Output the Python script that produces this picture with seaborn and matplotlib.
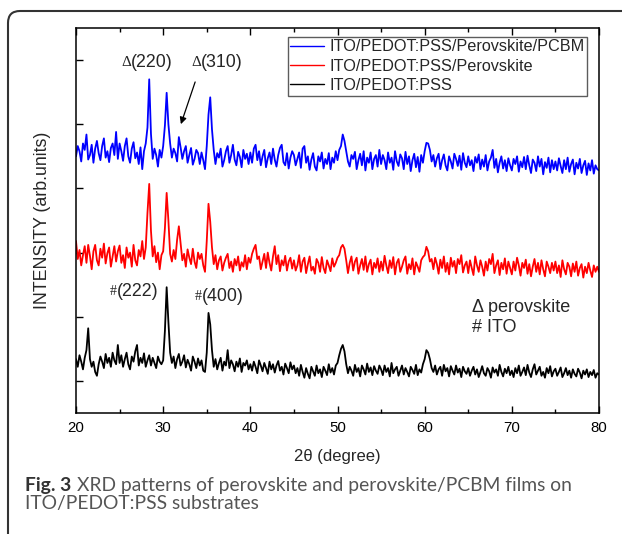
import numpy as np
import pandas as pd
import seaborn as sns
import matplotlib.pyplot as plt
import matplotlib.transforms as mtransforms
from matplotlib.patches import FancyBboxPatch
from matplotlib.ticker import MultipleLocator

# 2theta scan, 0.2 deg step, 20..80
two_theta = np.round(np.arange(20.0, 80.01, 0.2), 1)

# ITO/PEDOT:PSS/Perovskite/PCBM (offset trace, top)
pcbm = [
    3.50, 3.66, 3.58, 3.42, 3.70, 3.60, 3.84, 3.45, 3.52, 3.68, 3.40, 3.62, 3.74, 3.55, 3.44, 3.66, 3.78, 3.48, 3.58, 3.41, 3.63, 3.70, 3.52, 3.88, 3.46,  # 20-25
    3.70, 3.58, 3.43, 3.66, 3.78, 3.50, 3.40, 3.62, 3.72, 3.47, 3.56, 3.38, 3.64, 3.30, 3.58, 3.70, 3.95, 4.70, 3.85, 3.46, 3.62, 3.52, 3.34, 3.60, 3.48,  # 25-30
    3.66, 3.98, 4.49, 4.00, 3.70, 3.48, 3.62, 3.55, 3.42, 3.80, 3.64, 3.46, 3.58, 3.66, 3.40, 3.52, 3.63, 3.37, 3.46, 3.60, 3.55, 3.38, 3.56, 3.44, 3.30,  # 30-35
    3.66, 4.15, 4.42, 3.92, 3.60, 3.38, 3.55, 3.48, 3.62, 3.34, 3.44, 3.58, 3.66, 3.40, 3.52, 3.68, 3.45, 3.36, 3.57, 3.49, 3.33, 3.60, 3.46, 3.54, 3.38,  # 35-40
    3.56, 3.40, 3.62, 3.68, 3.44, 3.58, 3.36, 3.50, 3.60, 3.33, 3.47, 3.56, 3.38, 3.62, 3.45, 3.34, 3.52, 3.63, 3.68, 3.41, 3.36, 3.55, 3.31, 3.48, 3.58,  # 40-45
    3.52, 3.36, 3.46, 3.56, 3.32, 3.62, 3.66, 3.40, 3.50, 3.29, 3.45, 3.55, 3.34, 3.28, 3.50, 3.42, 3.56, 3.31, 3.46, 3.38, 3.55, 3.30, 3.48, 3.40, 3.58,  # 45-50
    3.44, 3.60, 3.66, 3.84, 3.74, 3.58, 3.42, 3.34, 3.52, 3.46, 3.57, 3.30, 3.44, 3.54, 3.36, 3.58, 3.28, 3.48, 3.40, 3.56, 3.30, 3.46, 3.52, 3.34, 3.60,  # 50-55
    3.38, 3.52, 3.44, 3.30, 3.56, 3.40, 3.48, 3.29, 3.58, 3.42, 3.35, 3.53, 3.47, 3.30, 3.57, 3.38, 3.50, 3.27, 3.44, 3.54, 3.33, 3.49, 3.26, 3.52, 3.40,  # 55-60
    3.58, 3.71, 3.70, 3.60, 3.42, 3.52, 3.34, 3.47, 3.54, 3.30, 3.44, 3.53, 3.36, 3.28, 3.50, 3.42, 3.31, 3.54, 3.46, 3.35, 3.51, 3.29, 3.55, 3.40, 3.33,  # 60-65
    3.50, 3.36, 3.44, 3.27, 3.49, 3.40, 3.53, 3.30, 3.45, 3.34, 3.52, 3.28, 3.42, 3.48, 3.60, 3.32, 3.46, 3.25, 3.40, 3.50, 3.31, 3.44, 3.27, 3.47, 3.36,  # 65-70
    3.28, 3.46, 3.38, 3.50, 3.26, 3.42, 3.33, 3.49, 3.30, 3.51, 3.36, 3.24, 3.45, 3.40, 3.27, 3.50, 3.34, 3.46, 3.22, 3.41, 3.32, 3.48, 3.25, 3.44, 3.30,  # 70-75
    3.42, 3.28, 3.47, 3.35, 3.24, 3.44, 3.30, 3.48, 3.26, 3.38, 3.45, 3.22, 3.40, 3.31, 3.46, 3.24, 3.36, 3.43, 3.21, 3.39, 3.28, 3.44, 3.23, 3.36, 3.30,  # 75-80
    3.28,
]

# ITO/PEDOT:PSS/Perovskite (middle trace)
perovskite = [
    2.18, 1.90, 2.04, 1.80, 1.96, 2.10, 1.84, 2.12, 1.95, 1.74, 2.02, 2.12, 1.88, 1.80, 2.06, 1.92, 2.14, 1.83, 1.99, 2.08, 1.78, 1.94, 2.10, 1.86, 2.02,  # 20-25
    2.11, 1.84, 1.96, 1.76, 2.08, 1.92, 2.00, 1.78, 2.12, 1.88, 1.80, 2.04, 1.94, 2.18, 1.90, 2.08, 2.62, 3.07, 2.34, 1.94, 2.10, 1.85, 2.00, 1.74, 1.96,  # 25-30
    2.02, 2.38, 2.93, 2.50, 1.98, 1.86, 2.04, 1.90, 2.20, 2.41, 2.14, 1.88, 1.98, 1.78, 2.05, 1.92, 1.82, 2.06, 1.86, 1.76, 2.00, 1.90, 1.98, 1.80, 1.70,  # 30-35
    2.18, 2.76, 2.48, 2.08, 1.82, 1.96, 1.74, 1.88, 1.94, 1.72, 1.84, 1.92, 1.98, 1.76, 1.86, 1.70, 1.90, 1.80, 1.94, 1.72, 1.85, 1.78, 1.96, 1.74, 1.92,  # 35-40
    1.84, 1.98, 2.06, 2.12, 1.90, 1.94, 1.74, 1.86, 1.98, 1.76, 2.00, 1.84, 1.72, 1.94, 2.10, 1.82, 1.96, 1.71, 1.88, 1.80, 1.95, 1.72, 1.86, 1.92, 1.75,  # 40-45
    1.88, 1.72, 1.80, 1.96, 1.70, 1.86, 1.92, 1.68, 1.82, 1.94, 1.72, 1.78, 1.67, 1.90, 1.84, 1.70, 1.93, 1.76, 1.68, 1.88, 1.80, 1.71, 1.91, 1.78, 1.84,  # 45-50
    1.92, 1.96, 2.08, 2.12, 2.06, 1.88, 1.68, 1.84, 1.94, 1.72, 1.86, 1.92, 1.67, 1.80, 1.90, 1.73, 1.94, 1.70, 1.82, 1.89, 1.66, 1.84, 1.76, 1.91, 1.70,  # 50-55
    1.86, 1.72, 1.95, 1.80, 1.68, 1.88, 1.76, 1.93, 1.66, 1.84, 1.90, 1.70, 1.78, 1.88, 1.94, 1.67, 1.82, 1.74, 1.91, 1.66, 1.85, 1.78, 1.70, 1.88, 1.93,  # 55-60
    1.96, 2.09, 2.02, 1.86, 1.90, 1.74, 1.92, 1.82, 1.67, 1.89, 1.76, 1.94, 1.70, 1.84, 1.66, 1.92, 1.78, 1.87, 1.68, 1.90, 1.82, 1.96, 1.69, 1.80, 1.86,  # 60-65
    1.68, 1.88, 1.76, 1.65, 1.94, 1.80, 1.70, 1.88, 1.78, 1.64, 1.86, 1.72, 1.90, 1.82, 1.98, 1.68, 1.80, 1.88, 1.65, 1.84, 1.74, 1.91, 1.67, 1.86, 1.76,  # 65-70
    1.66, 1.86, 1.72, 1.92, 1.80, 1.64, 1.84, 1.76, 1.89, 1.67, 1.82, 1.63, 1.78, 1.90, 1.70, 1.84, 1.66, 1.88, 1.74, 1.63, 1.86, 1.78, 1.68, 1.84, 1.72,  # 70-75
    1.86, 1.68, 1.80, 1.62, 1.88, 1.74, 1.66, 1.84, 1.78, 1.63, 1.83, 1.70, 1.86, 1.64, 1.76, 1.82, 1.61, 1.78, 1.68, 1.84, 1.72, 1.62, 1.80, 1.70, 1.78,  # 75-80
    1.70,
]

# ITO/PEDOT:PSS (bottom trace)
pedot = [
    0.34, 0.22, 0.40, 0.30, 0.18, 0.36, 0.48, 0.82, 0.34, 0.22, 0.30, 0.14, 0.08, 0.26, 0.38, 0.30, 0.20, 0.42, 0.28, 0.36, 0.22, 0.44, 0.32, 0.26, 0.56,  # 20-25
    0.28, 0.40, 0.22, 0.34, 0.44, 0.26, 0.18, 0.38, 0.30, 0.46, 0.56, 0.24, 0.36, 0.28, 0.43, 0.22, 0.32, 0.40, 0.24, 0.36, 0.28, 0.20, 0.38, 0.30, 0.26,  # 25-30
    0.32, 0.78, 1.46, 0.92, 0.44, 0.28, 0.38, 0.20, 0.34, 0.42, 0.24, 0.30, 0.40, 0.21, 0.33, 0.26, 0.16, 0.38, 0.30, 0.20, 0.35, 0.24, 0.32, 0.16, 0.14,  # 30-35
    0.44, 1.06, 0.88, 0.48, 0.22, 0.34, 0.18, 0.28, 0.36, 0.16, 0.30, 0.24, 0.48, 0.20, 0.32, 0.26, 0.15, 0.30, 0.22, 0.35, 0.14, 0.28, 0.24, 0.32, 0.18,  # 35-40
    0.26, 0.16, 0.30, 0.22, 0.12, 0.32, 0.24, 0.15, 0.28, 0.20, 0.11, 0.30, 0.18, 0.26, 0.13, 0.24, 0.31, 0.16, 0.22, 0.10, 0.27, 0.20, 0.12, 0.29, 0.18,  # 40-45
    0.24, 0.12, 0.20, 0.08, 0.25, 0.14, 0.05, 0.20, 0.11, 0.04, 0.22, 0.15, 0.08, 0.24, 0.12, 0.18, 0.06, 0.22, 0.16, 0.09, 0.26, 0.13, 0.20, 0.10, 0.24,  # 45-50
    0.28, 0.40, 0.50, 0.56, 0.46, 0.26, 0.12, 0.22, 0.16, 0.08, 0.25, 0.14, 0.20, 0.07, 0.24, 0.18, 0.10, 0.27, 0.14, 0.21, 0.09, 0.23, 0.16, 0.11, 0.24,  # 50-55
    0.18, 0.09, 0.24, 0.14, 0.20, 0.07, 0.28, 0.12, 0.18, 0.22, 0.08, 0.16, 0.24, 0.10, 0.20, 0.14, 0.07, 0.22, 0.17, 0.11, 0.25, 0.09, 0.18, 0.13, 0.26,  # 55-60
    0.34, 0.48, 0.44, 0.34, 0.20, 0.14, 0.24, 0.10, 0.18, 0.22, 0.08, 0.25, 0.15, 0.20, 0.07, 0.23, 0.16, 0.10, 0.24, 0.13, 0.19, 0.06, 0.22, 0.15, 0.11,  # 60-65
    0.20, 0.08, 0.16, 0.22, 0.10, 0.18, 0.06, 0.14, 0.23, 0.12, 0.08, 0.20, 0.15, 0.05, 0.21, 0.13, 0.18, 0.08, 0.25, 0.14, 0.07, 0.19, 0.12, 0.22, 0.09,  # 65-70
    0.16, 0.06, 0.20, 0.12, 0.24, 0.08, 0.14, 0.21, 0.09, 0.25, 0.13, 0.06, 0.18, 0.26, 0.10, 0.16, 0.22, 0.08, 0.14, 0.05, 0.20, 0.12, 0.23, 0.07, 0.15,  # 70-75
    0.19, 0.08, 0.14, 0.21, 0.06, 0.12, 0.20, 0.09, 0.16, 0.05, 0.18, 0.11, 0.07, 0.19, 0.13, 0.04, 0.16, 0.10, 0.18, 0.06, 0.14, 0.09, 0.17, 0.05, 0.12,  # 75-80
    0.10,
]

labels = ['ITO/PEDOT:PSS/Perovskite/PCBM', 'ITO/PEDOT:PSS/Perovskite', 'ITO/PEDOT:PSS']
colors = ['#0000ff', '#ff0000', '#000000']

for s in (pcbm, perovskite, pedot):
    assert len(s) == len(two_theta), len(s)

df = pd.concat([
    pd.DataFrame({'two_theta': two_theta, 'intensity': vals, 'sample': lab})
    for vals, lab in zip((pcbm, perovskite, pedot), labels)
])

sns.set_style('ticks')
plt.rcParams['font.family'] = ['Liberation Sans', 'DejaVu Sans']

fig = plt.figure(figsize=(6.22, 5.34), dpi=100)
ax = fig.add_axes([76 / 622, 121 / 534, 523 / 622, 385 / 534])

sns.lineplot(data=df, x='two_theta', y='intensity', hue='sample', hue_order=labels,
             palette=colors, estimator=None, sort=False, lw=1.3, ax=ax)

ax.set_xlim(20, 80)
ax.set_ylim(-0.5, 5.5)
ax.xaxis.set_major_locator(MultipleLocator(10))
ax.xaxis.set_minor_locator(MultipleLocator(5))
ax.set_yticks(range(6))
ax.tick_params(which='both', direction='in', top=True, right=False,
               labelleft=False, width=1, colors='black', labelsize=10.8, pad=6)
ax.tick_params(which='major', length=5)
ax.tick_params(which='minor', length=3)
for sp in ax.spines.values():
    sp.set_visible(True)
    sp.set_linewidth(1.1)
    sp.set_color('black')

ax.set_xlabel('2θ (degree)', fontsize=12, labelpad=10)
ax.set_ylabel('INTENSITY (arb.units)', fontsize=12.8, labelpad=18)

leg = ax.legend(loc='upper right', bbox_to_anchor=(0.977, 0.977), frameon=True,
                fancybox=False, edgecolor='#333333', fontsize=11.7, handlelength=2.1,
                handletextpad=0.3, borderpad=0.15, labelspacing=0.27, borderaxespad=0)
leg.get_frame().set_linewidth(1.0)
for h in leg.get_lines():
    h.set_linewidth(1.0)

# peak labels
ax.text(26.31, 4.97, 'Δ', ha='right', va='center', fontsize=11, family='Liberation Serif')
ax.text(26.31, 4.97, '(220)', ha='left', va='center', fontsize=12.8)
ax.text(34.34, 4.97, 'Δ', ha='right', va='center', fontsize=11, family='Liberation Serif')
ax.text(34.34, 4.97, '(310)', ha='left', va='center', fontsize=12.8)
ax.text(24.70, 1.40, '#', ha='right', va='center', fontsize=10, family='Liberation Serif')
ax.text(24.70, 1.40, '(222)', ha='left', va='center', fontsize=12.8)
ax.text(34.45, 1.31, '#', ha='right', va='center', fontsize=10, family='Liberation Serif')
ax.text(34.45, 1.31, '(400)', ha='left', va='center', fontsize=12.8)
ax.text(65.4, 1.15, 'Δ perovskite', ha='left', va='center', fontsize=13)
ax.text(65.4, 0.84, '# ITO', ha='left', va='center', fontsize=13)
ax.annotate('', xy=(31.93, 3.96), xytext=(33.77, 4.70),
            arrowprops=dict(arrowstyle='-|>', color='black', lw=0.9, mutation_scale=10))

# caption
cap1 = fig.text(25 / 622, 1 - 491 / 534, 'Fig. 3', fontsize=13.9, weight='bold',
                color='#333333', family='Lato', va='baseline')
fig.canvas.draw()
ax.annotate('XRD patterns of perovskite and perovskite/PCBM films on',
            xy=(1, 0), xycoords=cap1, xytext=(4, 0), textcoords='offset points',
            va='bottom', ha='left', fontsize=13.9, color='#555555', family='Lato',
            annotation_clip=False)
fig.text(25 / 622, 1 - 509 / 534, 'ITO/PEDOT:PSS substrates', fontsize=13.9,
         color='#555555', family='Lato', va='baseline')

# rounded frame around the figure panel
frame = FancyBboxPatch((8, -60), 700, 523 + 60, boxstyle='round,pad=0,rounding_size=12',
                       transform=mtransforms.IdentityTransform(), fill=False,
                       edgecolor='#333333', linewidth=1.5, clip_on=False)
fig.add_artist(frame)

fig.savefig('out.png', dpi=100)
